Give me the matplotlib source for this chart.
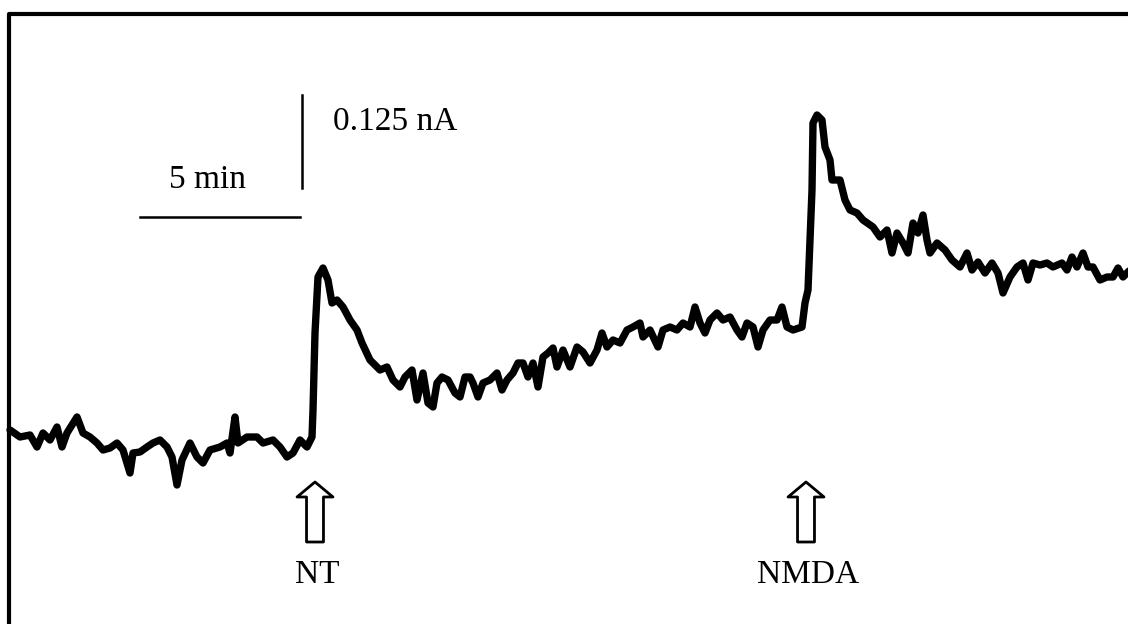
import numpy as np
import matplotlib
matplotlib.use("Agg")
import matplotlib.pyplot as plt

scan_x = [10, 20, 30, 37, 43, 50, 57, 62, 67, 77, 83, 90, 97, 103, 110, 117, 123, 130, 133,
          140, 147, 153, 160, 167, 172, 177, 182, 190, 197, 203, 210, 220, 227, 230, 235,
          238, 247, 257, 263, 273, 280, 287, 293, 300, 307, 312,
          313, 315, 318, 323,
          328, 332, 337, 343, 350, 357, 362, 370,
          380, 387, 393, 400, 405, 412, 417, 423, 428, 433, 437, 442, 448, 455, 460, 465,
          470, 473, 478, 483, 490, 497, 502, 507, 513, 518, 523, 528, 533, 538, 543, 548,
          553, 557, 563, 570, 577, 583, 590, 597, 602, 607, 613, 620, 627, 633, 640, 643,
          650, 658, 663, 670, 677, 683, 690, 695, 700, 705, 710, 717, 723, 730, 737, 742,
          747, 753, 758, 763, 770, 777, 782, 787, 793, 802,
          805, 808, 812, 813, 817, 822,
          825, 830, 832, 840, 845, 850, 857, 863, 873, 880, 887, 892, 897, 903, 908, 913,
          918, 923, 927, 930, 937, 945, 952, 960, 967, 972, 978, 985, 992, 998, 1003, 1010,
          1017, 1023, 1028, 1033, 1040, 1047, 1053, 1062, 1067, 1072, 1077, 1083, 1088,
          1093, 1100, 1107, 1113, 1118, 1123, 1130]
scan_y = [430, 437, 435, 447, 433, 440, 427, 447, 433, 417, 433, 437, 443, 450, 448, 443, 450, 473, 453,
          452, 447, 443, 440, 447, 457, 485, 460, 443, 457, 463, 450, 447, 443, 453, 417,
          443, 437, 437, 443, 440, 447, 457, 453, 440, 447, 437,
          410, 333, 277, 268,
          280, 303, 300, 307, 320, 330, 343, 360,
          370, 367, 380, 387, 377, 370, 400, 373, 403, 407, 383, 377, 380, 393, 397, 377,
          377, 383, 397, 383, 380, 373, 390, 380, 373, 363, 363, 377, 363, 387, 357, 353,
          348, 367, 350, 367, 347, 352, 363, 350, 333, 347, 340, 343, 330, 327, 323, 337,
          330, 347, 330, 327, 330, 323, 327, 307, 323, 333, 320, 313, 320, 317, 330, 337,
          323, 327, 347, 330, 320, 320, 307, 327, 330, 327,
          303, 290, 190, 123, 115, 120,
          147, 160, 180, 180, 200, 210, 213, 220, 227, 237, 230, 253, 233, 243, 253, 223,
          233, 215, 240, 253, 243, 250, 260, 267, 253, 270, 262, 273, 263, 273, 293, 277,
          267, 263, 280, 263, 265, 263, 267, 263, 270, 257, 267, 253, 267,
          267, 280, 277, 277, 268, 277, 270]

# calibration from the scale bars: 5 min = 160 px, 0.125 nA = 93 px
PX_PER_MIN = 160 / 5
PX_PER_NA = 93 / 0.125
X0, Y0 = 8, 443

t_min = (np.array(scan_x) - X0) / PX_PER_MIN
i_na = (Y0 - np.array(scan_y)) / PX_PER_NA

events = ["NT", "NMDA"]
event_t = [(315 - X0) / PX_PER_MIN, (806 - X0) / PX_PER_MIN]

W, H = 1128, 624
fig = plt.figure(figsize=(W / 100, H / 100), dpi=100)
ax = fig.add_axes([0, 0, 1, 1])
ax.set_xlim(-X0 / PX_PER_MIN, (W - X0) / PX_PER_MIN)
ax.set_ylim((Y0 - H) / PX_PER_NA, Y0 / PX_PER_NA)
ax.axis("off")

ax.plot(t_min, i_na, color="black", lw=5.3, solid_joinstyle="round",
        solid_capstyle="round")

# frame of the scanned figure (left and top only visible)
fx, fy = 9 / W, 1 - 14 / H
ax.plot([fx, fx, 1.01], [-0.01, fy, fy], color="black", lw=3, transform=ax.transAxes,
        clip_on=False)

font = "Liberation Serif"
fs = 24

# scale bars
bar_t0 = (140 - X0) / PX_PER_MIN
bar_i = (Y0 - 217) / PX_PER_NA
ax.plot([bar_t0, bar_t0 + 5], [bar_i, bar_i], color="black", lw=1.8)
ax.text(bar_t0 + 2.1, (Y0 - 188) / PX_PER_NA, "5 min", ha="center", va="baseline",
        family=font, fontsize=fs)
vb_t = (302 - X0) / PX_PER_MIN
vb_i0 = (Y0 - 188) / PX_PER_NA
ax.plot([vb_t, vb_t], [vb_i0, vb_i0 + 0.125], color="black", lw=1.8)
ax.text((333 - X0) / PX_PER_MIN, (Y0 - 130) / PX_PER_NA, "0.125 nA", ha="left",
        va="baseline", family=font, fontsize=fs)

# event arrows
tip_i = (Y0 - 482) / PX_PER_NA
base_i = (Y0 - 542) / PX_PER_NA
lab_i = (Y0 - 583) / PX_PER_NA
for name, t in zip(events, event_t):
    ax.annotate("", xy=(t, tip_i), xytext=(t, base_i),
                arrowprops=dict(arrowstyle="simple,head_length=10.8,head_width=25.9,tail_width=12.2",
                                mutation_scale=1, fc="white", ec="black", lw=2,
                                shrinkA=0, shrinkB=0))
    ax.text(t + 0.06, lab_i, name, ha="center", va="baseline", family=font, fontsize=fs)

fig.savefig("out.png", dpi=100)
